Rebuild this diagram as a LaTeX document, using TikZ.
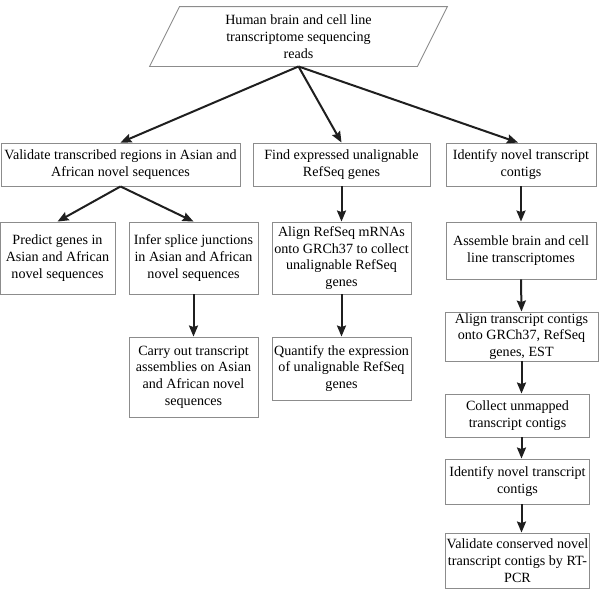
\documentclass[tikz,border=0pt]{standalone}
\usepackage{fontspec}
\setmainfont{Liberation Serif}
\usetikzlibrary{arrows.meta}

\begin{document}
\begin{tikzpicture} [x=1pt, y=-1pt,
    box/.style={draw=black!45, line width=0.9pt, align=center, inner sep=0pt,
        font=\fontsize{14.1}{16.7}\selectfont},
    flow/.style={-{Stealth[length=11pt, width=9pt, inset=1.5pt]}, line width=2pt, color=black!88}]

\useasboundingbox (0, 0) rectangle (600, 590);

\node (reads) [box, draw=none, minimum width=267pt, minimum height=59pt] at (298.5, 36.5)
    {Human brain and cell line\\transcriptome sequencing\\reads};
\draw [draw=black!45, line width=0.9pt]
    ([xshift=15pt]reads.north west) -- ([xshift=15pt]reads.north east)
    -- ([xshift=-15pt]reads.south east) -- ([xshift=-15pt]reads.south west) -- cycle;

\node (valid) [box, minimum width=239pt, minimum height=43pt] at (120.5, 164.5)
    {Validate transcribed regions in Asian and\\African novel sequences};

\node (find) [box, minimum width=177pt, minimum height=43pt] at (341.5, 164.5)
    {Find expressed unalignable\\RefSeq genes};

\node (ident) [box, minimum width=150pt, minimum height=43pt] at (521, 164.5)
    {Identify novel transcript\\contigs};

\node (predict) [box, minimum width=115pt, minimum height=72pt] at (57.5, 258)
    {Predict genes in\\Asian and African\\novel sequences};

\node (splice) [box, minimum width=129pt, minimum height=72pt] at (193.5, 258)
    {Infer splice junctions\\in Asian and African\\novel sequences};

\node (carry) [box, minimum width=129pt, minimum height=80pt] at (193.5, 377)
    {Carry out transcript\\assemblies on Asian\\and African novel\\sequences};

\node (alignref) [box, minimum width=139pt, minimum height=72pt] at (341.5, 258)
    {Align RefSeq mRNAs\\onto GRCh37 to collect\\unalignable RefSeq\\genes};

\node (quant) [box, minimum width=139pt, minimum height=63pt] at (341.5, 368.5)
    {Quantify the expression\\of unalignable RefSeq\\genes};

\node (assemble) [box, minimum width=150pt, minimum height=57pt] at (521, 250.5)
    {Assemble brain and cell\\line transcriptomes};

\node (aligntr) [box, minimum width=153pt, minimum height=49pt] at (521.5, 336.5)
    {Align transcript contigs\\onto GRCh37, RefSeq\\genes, EST};

\node (collect) [box, minimum width=144pt, minimum height=43pt] at (517.5, 415.5)
    {Collect unmapped\\transcript contigs};

\node (novel) [box, minimum width=144pt, minimum height=45pt] at (517.5, 481.5)
    {Identify novel transcript\\contigs};

\node (rtpcr) [box, minimum width=144pt, minimum height=55pt] at (517.5, 560.5)
    {Validate conserved novel\\transcript contigs by RT-\\PCR};

% Arrows
\path [flow]
(reads.south) edge (valid.north)
(reads.south) edge (find.north)
(reads.south) edge ([xshift=-3pt]ident.north)
(valid.south) edge (predict.north)
(valid.south) edge (splice.north)
(splice.south) edge (carry.north)
(find.south) edge (alignref.north)
(alignref.south) edge (quant.north)
(ident.south) edge (assemble.north)
(assemble.south) edge (aligntr.south |- aligntr.north)
(aligntr.south) edge (aligntr.south |- collect.north)
(aligntr.south |- collect.south) edge (aligntr.south |- novel.north)
(aligntr.south |- novel.south) edge (aligntr.south |- rtpcr.north);
\end{tikzpicture}
\end{document}
